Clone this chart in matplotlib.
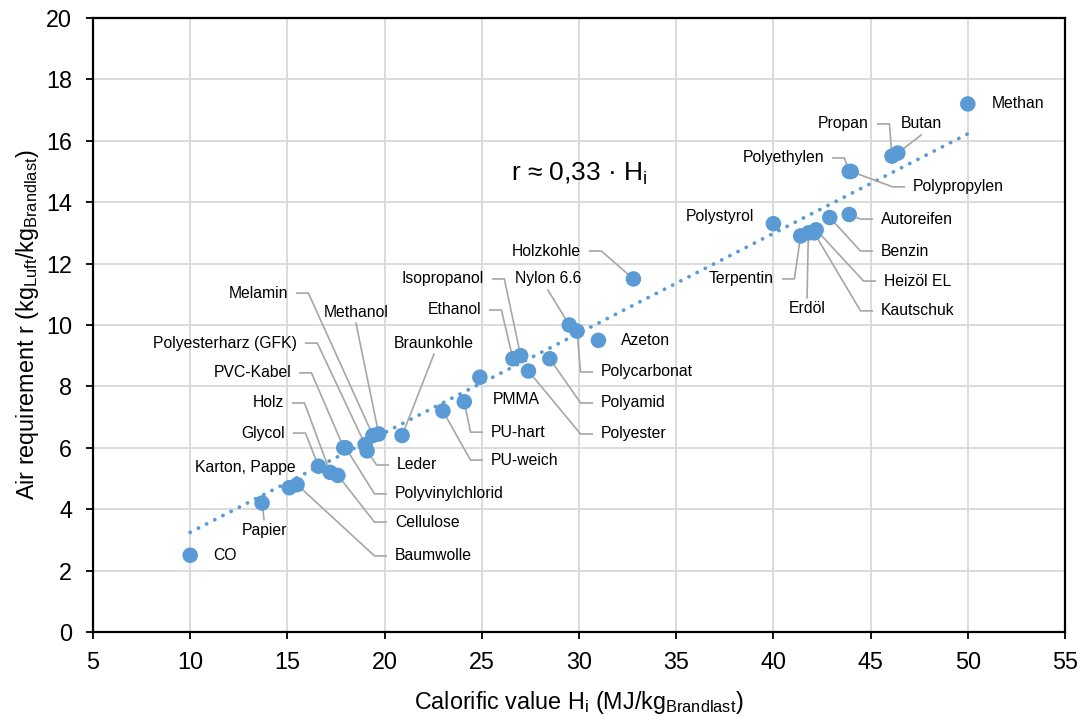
import matplotlib
matplotlib.use('Agg')
import matplotlib.pyplot as plt
import numpy as np

plt.rcParams['font.family'] = ['Liberation Sans', 'DejaVu Sans']
plt.rcParams['mathtext.fontset'] = 'custom'
plt.rcParams['mathtext.rm'] = 'Liberation Sans'
plt.rcParams['mathtext.it'] = 'Liberation Sans:italic'

# Heizwert H_i (MJ/kg) und Luftbedarf r (kg Luft / kg Brandlast)
stoffe = ['CO', 'Papier', 'Karton, Pappe', 'Baumwolle', 'Glycol', 'Holz', 'Cellulose',
          'PVC-Kabel', 'Polyvinylchlorid', 'Polyesterharz (GFK)', 'Leder', 'Melamin',
          'Methanol', 'Braunkohle', 'PU-weich', 'PU-hart', 'PMMA', 'Ethanol',
          'Isopropanol', 'Polyester', 'Polyamid', 'Nylon 6.6', 'Polycarbonat', 'Azeton',
          'Holzkohle', 'Polystyrol', 'Terpentin', 'Erdöl', 'Heizöl EL', 'Kautschuk',
          'Benzin', 'Autoreifen', 'Polyethylen', 'Polypropylen', 'Propan', 'Butan', 'Methan']
heizwert = [10.0, 13.7, 15.1, 15.5, 16.6, 17.2, 17.6,
            17.9, 18.0, 19.0, 19.1, 19.4,
            19.7, 20.9, 23.0, 24.1, 24.9, 26.6,
            27.0, 27.4, 28.5, 29.5, 29.9, 31.0,
            32.8, 40.0, 41.4, 41.8, 42.2, 42.1,
            42.9, 43.9, 43.9, 44.0, 46.1, 46.4, 50.0]
luftbedarf = [2.5, 4.2, 4.7, 4.8, 5.4, 5.2, 5.1,
              6.0, 6.0, 6.1, 5.9, 6.4,
              6.45, 6.4, 7.2, 7.5, 8.3, 8.9,
              9.0, 8.5, 8.9, 10.0, 9.8, 9.5,
              11.5, 13.3, 12.9, 13.0, 13.1, 13.0,
              13.5, 13.6, 15.0, 15.0, 15.5, 15.6, 17.2]

# Beschriftung: (x, y, Ausrichtung, Art der Führungslinie)
# 'elbow' = kurzes waagrechtes Stück + Linie zum Punkt, 'top'/'bottom' = direkt vom Text
beschriftung = {
    'CO': (11.2, 2.5, 'left', None),
    'Papier': (13.8, 3.32, 'center', 'top'),
    'Karton, Pappe': (15.44, 5.37, 'right', None),
    'Baumwolle': (20.53, 2.48, 'left', 'elbow'),
    'Glycol': (14.88, 6.48, 'right', 'elbow'),
    'Holz': (14.83, 7.46, 'right', 'elbow'),
    'Cellulose': (20.53, 3.58, 'left', 'elbow'),
    'PVC-Kabel': (15.19, 8.44, 'right', 'elbow'),
    'Polyvinylchlorid': (20.53, 4.5, 'left', 'elbow'),
    'Polyesterharz (GFK)': (15.49, 9.41, 'right', 'elbow'),
    'Leder': (20.64, 5.44, 'left', 'elbow'),
    'Melamin': (15.03, 11.04, 'right', 'elbow'),
    'Methanol': (18.53, 10.42, 'center', 'bottom'),
    'Braunkohle': (22.54, 9.41, 'center', 'bottom'),
    'PU-weich': (25.47, 5.6, 'left', 'elbow'),
    'PU-hart': (25.47, 6.51, 'left', 'elbow'),
    'PMMA': (25.58, 7.56, 'left', None),
    'Ethanol': (24.96, 10.49, 'right', 'elbow'),
    'Isopropanol': (25.11, 11.5, 'right', 'elbow'),
    'Polyester': (31.13, 6.45, 'left', 'elbow'),
    'Polyamid': (31.13, 7.46, 'left', 'elbow'),
    'Nylon 6.6': (28.4, 11.5, 'center', 'bottom'),
    'Polycarbonat': (31.13, 8.47, 'left', 'elbow'),
    'Azeton': (32.16, 9.51, 'left', None),
    'Holzkohle': (30.1, 12.41, 'right', 'elbow'),
    'Polystyrol': (39.0, 13.55, 'right', None),
    'Terpentin': (40.03, 11.5, 'right', 'elbow'),
    'Erdöl': (41.73, 10.55, 'center', 'top'),
    'Heizöl EL': (45.69, 11.43, 'left', 'elbow'),
    'Kautschuk': (45.53, 10.46, 'left', 'elbow'),
    'Benzin': (45.53, 12.41, 'left', 'elbow'),
    'Autoreifen': (45.53, 13.45, 'left', 'elbow'),
    'Polyethylen': (42.6, 15.44, 'right', 'elbow'),
    'Polypropylen': (47.18, 14.5, 'left', 'elbow'),
    'Propan': (44.92, 16.55, 'right', 'elbow'),
    'Butan': (47.6, 16.55, 'center', 'bottom'),
    'Methan': (51.24, 17.2, 'left', None),
}

blau = '#5B9BD5'
grau = '#A6A6A6'

fig = plt.figure(figsize=(10.81, 7.16), dpi=100)
ax = fig.add_axes([0.086, 0.1173, 0.8992, 0.8576])

ax.set_xlim(5, 55)
ax.set_ylim(0, 20)
ax.set_xticks(np.arange(5, 56, 5))
ax.set_yticks(np.arange(0, 21, 2))
ax.grid(True, color='#D9D9D9', linewidth=1.3, zorder=0)
ax.set_axisbelow(True)
for s in ax.spines.values():
    s.set_linewidth(1.6)
    s.set_color('black')
ax.tick_params(axis='both', direction='out', length=5, width=1.3, labelsize=16.8)
ax.tick_params(axis='y', pad=10)
ax.tick_params(axis='x', pad=8.5)

# Trendlinie durch den Ursprung (kleinste Quadrate)
hw = np.array(heizwert)
lb = np.array(luftbedarf)
m = np.sum(hw * lb) / np.sum(hw * hw)
xt = np.array([hw.min(), hw.max()])
ax.plot(xt, m * xt, color=blau, linewidth=2.7, linestyle=(0, (0.05, 2.4)),
        dash_capstyle='round', zorder=2)

ax.scatter(hw, lb, s=125, color=blau, edgecolors='none', zorder=4)

gap = 0.45
knick = 1.05
for name, x, y in zip(stoffe, heizwert, luftbedarf):
    tx, ty, ha, art = beschriftung[name]
    ax.text(tx, ty, name, ha=ha, va='center', fontsize=11.3, zorder=5)
    if art == 'elbow':
        sgn = -1 if ha == 'left' else 1
        lx = [tx + sgn * gap, tx + sgn * knick, x]
        ly = [ty, ty, y]
        ax.plot(lx, ly, color=grau, linewidth=1.2, zorder=3)
    elif art == 'bottom':
        ax.plot([tx, x], [ty - 0.36, y], color=grau, linewidth=1.2, zorder=3)
    elif art == 'top':
        ax.plot([tx, x], [ty + 0.34, y], color=grau, linewidth=1.2, zorder=3)

ax.text(30.0, 14.92, r'r ≈ 0,33 · H$_\mathregular{i}$', ha='center', va='center', fontsize=19)

ax.set_xlabel(r'Calorific value H$_\mathregular{i}$ (MJ/kg$_\mathregular{Brandlast}$)', fontsize=16.8)
ax.set_ylabel(r'Air requirement r (kg$_\mathregular{Luft}$/kg$_\mathregular{Brandlast}$)', fontsize=16.8)
ax.xaxis.set_label_coords(0.5, -0.093)
ax.yaxis.set_label_coords(-0.053, 0.5)

fig.savefig('out.png', dpi=100)
